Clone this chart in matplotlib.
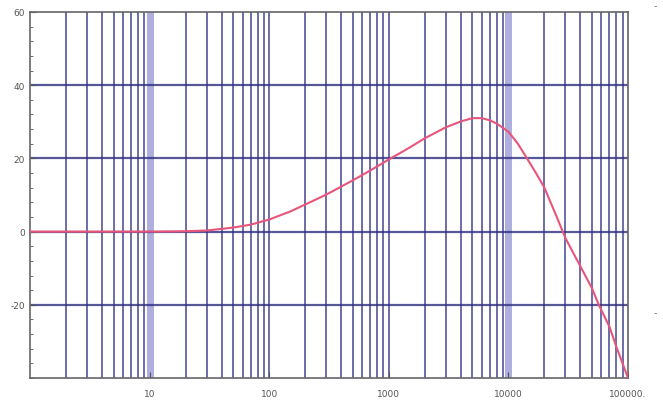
import numpy as np
import matplotlib
matplotlib.use('Agg')
import matplotlib.pyplot as plt

# Magnitude response (frequency, dB)
freq = [1, 10, 20, 30, 50, 70, 100, 150, 200, 300, 500, 700, 1000, 1500, 2000,
        3000, 4000, 5000, 6000, 7000, 8000, 10000, 12000, 14000, 17000, 20000,
        25000, 30000, 40000, 50000, 57000, 70000, 80000, 100000]
gain_db = [0, 0, 0.1, 0.3, 1.1, 1.9, 3.3, 5.5, 7.4, 10.1, 14.0, 16.7, 19.7, 23.0, 25.5,
           28.5, 30.1, 31.0, 31.0, 30.4, 29.5, 27.3, 24.0, 20.5, 16.0, 12.0,
           4.5, -1.8, -9.5, -15.5, -20.0, -26.0, -31.5, -40.0]

y_ticks = [60, 40, 20, 0, -20]
y_labels = ['60', '40', '20', '0', '-20']
x_ticks = [10, 100, 1000, 10000, 100000]
x_labels = ['10', '100', '1000', '10000', '100000.']

fig = plt.figure(figsize=(6.63, 4.02), dpi=100)
ax = fig.add_axes([30 / 663, 1 - 379 / 402, 598 / 663, 366 / 402])

ax.set_xscale('log')
ax.set_xlim(1, 100000)
ax.set_ylim(-40, 60)

# vertical grid at every 1..9 x decade
for dec in [1, 10, 100, 1000, 10000]:
    for m in range(2, 10):
        ax.axvline(m * dec, color='#2e2e80', lw=1.3, alpha=0.75, zorder=1)
for v in [10, 10000]:
    ax.axvline(v, color='#9a9ad8', lw=5, alpha=0.8, zorder=1)
for v in [100, 1000]:
    ax.axvline(v, color='#2e2e80', lw=1.3, alpha=0.75, zorder=1)
for h in [40, 20, 0, -20]:
    ax.axhline(h, color='#2e2e80', lw=1.6, alpha=0.8, zorder=1)

ax.plot(freq, gain_db, color='#e8557a', lw=1.5, zorder=3)

ax.set_yticks(y_ticks)
ax.set_yticklabels(y_labels)
ax.set_yticks(np.arange(-40, 61, 4), minor=True)
ax.set_xticks(x_ticks)
ax.set_xticklabels(x_labels)
ax.xaxis.set_minor_locator(matplotlib.ticker.NullLocator())

ax.tick_params(axis='both', which='major', labelsize=6.5, labelcolor='#555555',
               color='#555555', direction='in', length=4)
ax.tick_params(axis='y', which='minor', color='#555555', direction='in', length=2)
ax.tick_params(axis='x', pad=8)
for s in ax.spines.values():
    s.set_color('#666666')
    s.set_linewidth(1.2)

# small stray marks at the right edge
fig.text(655 / 663, 1 - 6 / 402, '-', fontsize=7, color='#777777', ha='center', va='center')
fig.text(655 / 663, 1 - 313 / 402, '-', fontsize=7, color='#777777', ha='center', va='center')

fig.savefig('out.png', dpi=100)
